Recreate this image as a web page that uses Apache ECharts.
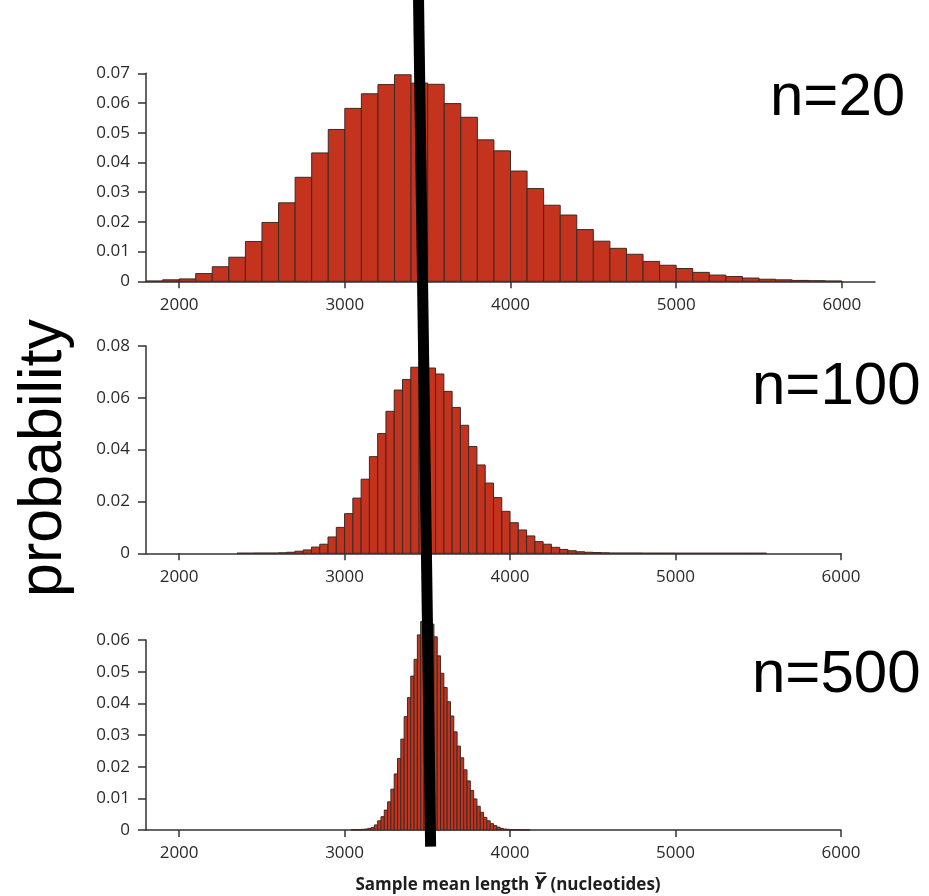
<!DOCTYPE html>
<html><head><meta charset="utf-8">
<script src="https://cdn.jsdelivr.net/npm/echarts@6/dist/echarts.min.js"></script>
<style>html,body{margin:0;padding:0;background:#fff}#c{width:929px;height:896px}</style>
</head><body><div id="c"></div>
<script>
// ---- data ----
const xTicks = [2000, 3000, 4000, 5000, 6000];
const n20Start = 1800, n20Bin = 100;
const n20Values = [0.0001,0.0005,0.0008,0.0026,0.0049,0.0081,0.0134,0.0198,0.0264,0.0350,0.0432,0.0511,0.0582,0.0631,0.0662,0.0695,0.0667,0.0663,0.0598,0.0552,0.0476,0.0439,0.0371,0.0312,0.0256,0.0223,0.0174,0.0135,0.0111,0.0091,0.0067,0.0054,0.0043,0.0030,0.0021,0.0016,0.0011,0.0007,0.0005,0.0003,0.0002,0.0001];
const n100Start = 2350, n100Bin = 50;
const n100Values = [0.00005,0.00005,0.0001,0.0001,0.0001,0.0002,0.0004,0.0008,0.0013,0.0024,0.0035,0.0063,0.0100,0.0153,0.0213,0.0286,0.0373,0.0462,0.0548,0.0630,0.0671,0.0718,0.0736,0.0715,0.0692,0.0625,0.0563,0.0494,0.0412,0.0341,0.0271,0.0215,0.0162,0.0118,0.0090,0.0067,0.0045,0.0035,0.0023,0.0015,0.0010,0.0006,0.0004,0.0003,0.0002,0.0001,0.0001,0.0001,0.0001,0.00005,0.00005,0.00005,0.00005,0.00003,0.00003,0.00003,0.00003,0.00003,0.00003,0.00003,0.00003,0.00003,0.00003,0.00003];
const n500Start = 3040, n500Bin = 20;
const n500Values = [0.00005,0.0001,0.0001,0.0002,0.0003,0.0005,0.0008,0.0016,0.0029,0.0042,0.0063,0.0089,0.0129,0.0177,0.0226,0.0287,0.0358,0.0418,0.0486,0.0539,0.0616,0.0658,0.0675,0.0668,0.0650,0.0610,0.0550,0.0495,0.0450,0.0405,0.0360,0.0310,0.0265,0.0228,0.0190,0.0155,0.0125,0.0098,0.0075,0.0056,0.0040,0.0029,0.0020,0.0014,0.0009,0.0005,0.0003,0.0002,0.0001,0.0001,0.00005,0.00005,0.00005,0.00005];
const meanLineX = [3447, 3520];      // x value of the mean line at top and at bottom
const panelLabels = ['n=20', 'n=100', 'n=500'];
const yTitle = 'probability';
const xTitleA = 'Sample mean length ', xTitleY = 'Y\u0305', xTitleB = ' (nucleotides)';

// ---- styling helpers ----
const AX = '#333333';
const tickFont = {fontFamily: 'Open Sans', fontSize: 17, color: '#2a2a2a'};
function toData(start, bin, vals) { return vals.map((v, i) => [start + i * bin, v]); }
function renderBin(bin) {
  return function (params, api) {
    const x0 = api.value(0), y = api.value(1);
    const p0 = api.coord([x0, 0]);
    const p1 = api.coord([x0 + bin, y]);
    return {type: 'rect',
      shape: {x: p0[0], y: p1[1], width: p1[0] - p0[0], height: p0[1] - p1[1]},
      style: {fill: '#c4331d', stroke: '#3b2a26', lineWidth: 1}};
  };
}
function xAx(gi, max) {
  return {type: 'value', gridIndex: gi, min: 1800, max: max,
    axisLine: {show: true, lineStyle: {color: AX, width: 1.5}},
    axisTick: {show: true, length: 7, customValues: xTicks, lineStyle: {color: AX, width: 1.5}},
    axisLabel: Object.assign({margin: 15, customValues: xTicks, formatter: v => String(v)}, tickFont),
    splitLine: {show: false}};
}
function yAx(gi, max, step) {
  return {type: 'value', gridIndex: gi, min: 0, max: max, interval: step,
    axisLine: {show: true, lineStyle: {color: AX, width: 1.5}},
    axisTick: {show: true, length: 8, lineStyle: {color: AX, width: 1.5}},
    axisLabel: Object.assign({margin: 16, formatter: v => v === 0 ? '0' : v.toFixed(2)}, tickFont),
    splitLine: {show: false}};
}

const chart = echarts.init(document.getElementById('c'), null, {renderer: 'canvas'});
chart.setOption({
  animation: false,
  backgroundColor: '#ffffff',
  grid: [
    {left: 146, width: 729, top: 73.3, height: 208},
    {left: 146, width: 695, top: 346, height: 207.3},
    {left: 146, width: 695, top: 640, height: 190},
    {left: 146, width: 695, top: 0, height: 846.7}
  ],
  xAxis: [xAx(0, 6200), xAx(1, 6000), xAx(2, 6000),
    {type: 'value', gridIndex: 3, min: 1800, max: 6000, show: false}],
  yAxis: [yAx(0, 0.07, 0.01), yAx(1, 0.08, 0.02), yAx(2, 0.06, 0.01),
    {type: 'value', gridIndex: 3, min: 0, max: 1, show: false}],
  series: [
    {type: 'custom', xAxisIndex: 0, yAxisIndex: 0, data: toData(n20Start, n20Bin, n20Values), renderItem: renderBin(n20Bin), encode: {x: 0, y: 1}},
    {type: 'custom', xAxisIndex: 1, yAxisIndex: 1, data: toData(n100Start, n100Bin, n100Values), renderItem: renderBin(n100Bin), encode: {x: 0, y: 1}},
    {type: 'custom', xAxisIndex: 2, yAxisIndex: 2, data: toData(n500Start, n500Bin, n500Values), renderItem: renderBin(n500Bin), encode: {x: 0, y: 1}, clip: false},
    {type: 'line', xAxisIndex: 3, yAxisIndex: 3, z: 10, symbol: 'none', silent: true,
      data: [[meanLineX[0], 1], [meanLineX[1], 0]],
      lineStyle: {color: '#000000', width: 11, cap: 'butt'}}
  ],
  graphic: [
    {type: 'text', left: 770, top: 68, style: {text: panelLabels[0], font: '60px "Liberation Sans"', fill: '#000'}},
    {type: 'text', left: 752, top: 357, style: {text: panelLabels[1], font: '60px "Liberation Sans"', fill: '#000'}},
    {type: 'text', left: 752, top: 645, style: {text: panelLabels[2], font: '60px "Liberation Sans"', fill: '#000'}},
    {type: 'text', x: 44, y: 458, rotation: Math.PI / 2,
      style: {text: yTitle, font: '61px "Liberation Sans"', fill: '#000', align: 'center', verticalAlign: 'middle'}},
    {type: 'text', x: 508, y: 885,
      style: {text: '{a|' + xTitleA + '}{y|' + xTitleY + '}{a|' + xTitleB + '}', align: 'center', verticalAlign: 'middle',
        rich: {a: {fontFamily: 'Open Sans', fontWeight: 'bold', fontSize: 17, fill: '#1e1e1e'},
               y: {fontFamily: 'DejaVu Sans', fontWeight: 'bold', fontStyle: 'italic', fontSize: 17, fill: '#1e1e1e'}}}}
  ]
});
</script></body></html>
